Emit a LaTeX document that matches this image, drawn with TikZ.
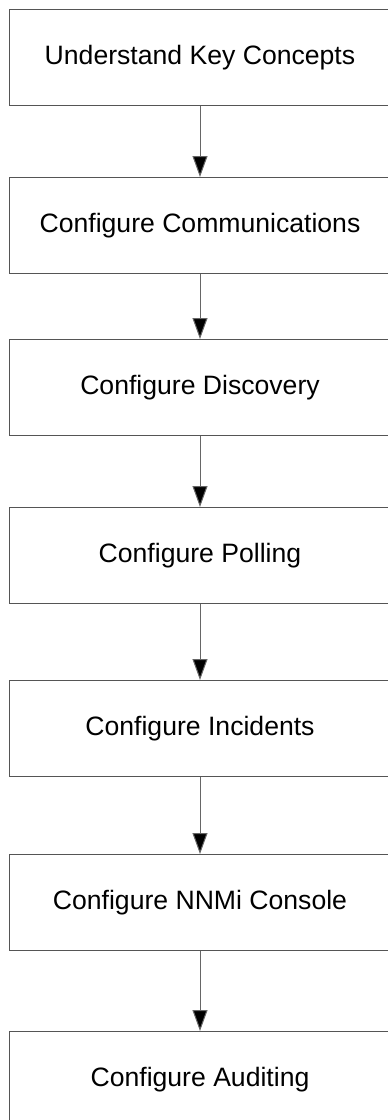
\documentclass[tikz,border=0pt]{standalone}
\usepackage{fontspec}
\setmainfont{Liberation Sans}
\usetikzlibrary{arrows.meta}
\definecolor{edge}{HTML}{555555}
\definecolor{shaft}{HTML}{666666}
\begin{document}
\begin{tikzpicture}[x=1pt,y=1pt,
  stepbox/.style={draw=edge,line width=1pt,fill=white,minimum width=382pt,minimum height=96pt,inner sep=0pt,font=\fontsize{26.6}{30}\selectfont,anchor=north},
  flow/.style={draw=shaft,line width=1pt,-{Triangle[width=15pt,length=21pt,fill=black]}}]
\useasboundingbox (0,0) rectangle (388,-1120);
\node[stepbox] (b1) at (200,-9) {Understand Key Concepts};
\node[stepbox] (b2) at (200,-177) {Configure Communications};
\node[stepbox] (b3) at (200,-339) {Configure Discovery};
\node[stepbox] (b4) at (200,-507) {Configure Polling};
\node[stepbox] (b5) at (200,-680) {Configure Incidents};
\node[stepbox] (b6) at (200,-854) {Configure NNMi Console};
\node[stepbox] (b7) at (200,-1031) {Configure Auditing};
\draw[flow] (b1.south) -- (b2.north);
\draw[flow] (b2.south) -- (b3.north);
\draw[flow] (b3.south) -- (b4.north);
\draw[flow] (b4.south) -- (b5.north);
\draw[flow] (b5.south) -- (b6.north);
\draw[flow] (b6.south) -- (b7.north);
\end{tikzpicture}
\end{document}
